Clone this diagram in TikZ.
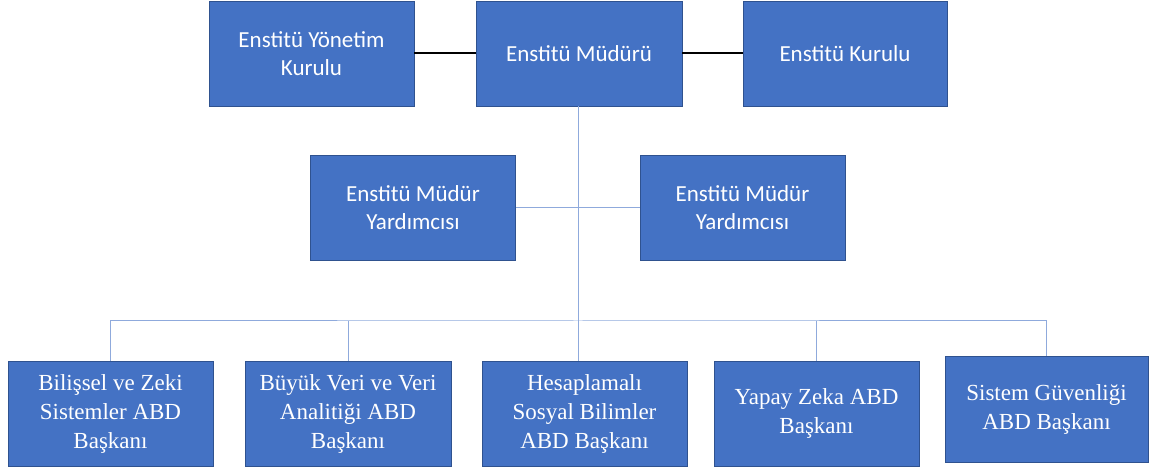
\documentclass[tikz,border=0pt]{standalone}
\usepackage{fontspec}
\setmainfont{Carlito}
\newfontfamily\timesfont{Liberation Serif}
\usepackage{tikz}
\usetikzlibrary{positioning, calc}
\definecolor{boxblue}{HTML}{4472C4}
\definecolor{boxedge}{HTML}{2F528F}
\definecolor{linkblue}{HTML}{8FAADC}

\begin{document}
\begin{tikzpicture}[x=1pt, y=-1pt,
    box/.style={rectangle, draw=boxedge, line width=0.8pt, fill=boxblue, text=white, minimum width=205pt, minimum height=105pt, inner sep=0pt, align=center, font=\fontsize{23}{28}\selectfont},
    abd/.style={box, font=\timesfont\fontsize{23}{29}\selectfont},
    link/.style={draw=linkblue, line width=1pt},
    tie/.style={draw=black, line width=2pt}]
    \useasboundingbox (0,0) rectangle (1149,470);
    % Nodes
    \node[box] (yonetim) at (311.5,53.5) {Enstitü Yönetim\\Kurulu};
    \node[box, minimum width=206pt] (mudur) at (579,53.5) {Enstitü Müdürü};
    \node[box, minimum width=204pt] (kurul) at (845,53.5) {Enstitü Kurulu};
    \node[box] (yard1) at (413,207.5) {Enstitü Müdür\\Yardımcısı};
    \node[box] (yard2) at (742.5,207.5) {Enstitü Müdür\\Yardımcısı};
    \node[abd] (abd1) at (110.5,413.5) {Bilişsel ve Zeki\\Sistemler ABD\\Başkanı};
    \node[abd, minimum width=206pt] (abd2) at (348,413.5) {Büyük Veri ve Veri\\Analitiği ABD\\Başkanı};
    \node[abd] (abd3) at (584.5,413.5) {Hesaplamalı\\Sosyal Bilimler\\ABD Başkanı};
    \node[abd] (abd4) at (816.5,413.5) {Yapay Zeka ABD\\Başkanı};
    \node[abd, minimum width=203pt, minimum height=106pt] (abd5) at (1046.5,409) {Sistem Güvenliği\\ABD Başkanı};
    \coordinate (bus) at (578,321);

    % Lines
    \draw[tie] (yonetim) -- (mudur);
    \draw[tie] (mudur) -- (kurul);
    \draw[link] (yard1) -- (yard2);
    \draw[link] (bus |- mudur.south) -- (bus |- abd3.north);
    \draw[link] (abd1.north) |- (bus) -| (abd5.north);
    \draw[link] (abd2.north) -- (abd2.north |- bus);
    \draw[link] (abd4.north) -- (abd4.north |- bus);

\end{tikzpicture}
\end{document}
